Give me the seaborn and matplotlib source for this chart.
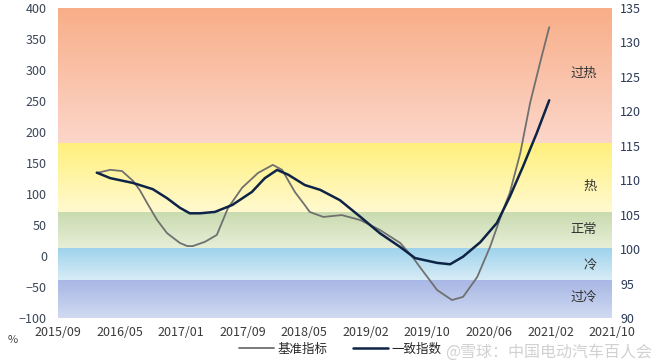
import numpy as np
import pandas as pd
import matplotlib.pyplot as plt
import seaborn as sns
from matplotlib.colors import LinearSegmentedColormap
from matplotlib.lines import Line2D

sns.set_style("white")
plt.rcParams['font.family'] = ['Noto Sans CJK SC', 'DejaVu Sans']

# x axis: category labels, data positions in label units
tick_labels = ["2015/09", "2016/05", "2017/01", "2017/09", "2018/05",
               "2019/02", "2019/10", "2020/06", "2021/02", "2021/10"]

# 基准指标 (left axis, %)
base_x = [0.63, 0.85, 1.04, 1.22, 1.33, 1.45, 1.61, 1.77, 1.98, 2.10, 2.19, 2.39,
          2.58, 2.76, 2.99, 3.25, 3.49, 3.64, 3.85, 4.01, 4.09, 4.31, 4.61, 4.91,
          5.23, 5.56, 5.77, 5.88, 6.16, 6.40, 6.58, 6.81, 7.02, 7.23, 7.34, 7.51,
          7.67, 7.83, 7.98]
base_y = [134, 139, 137, 121, 106, 85, 58, 37, 21, 16, 16, 23,
          34, 77, 110, 134, 147, 139, 103, 82, 71, 63, 66, 58,
          42, 21, -3, -18, -55, -71, -66, -34, 15, 74, 102, 166,
          247, 311, 369]

# 一致指数 (right axis)
coin_x = [0.63, 0.85, 1.22, 1.54, 1.77, 1.98, 2.14, 2.31, 2.55, 2.83, 3.15, 3.36,
          3.56, 3.74, 4.01, 4.26, 4.58, 4.91, 5.23, 5.56, 5.80, 6.16, 6.37, 6.58,
          6.86, 7.13, 7.34, 7.55, 7.78, 7.98]
coin_y = [111.1, 110.3, 109.6, 108.7, 107.4, 106.0, 105.2, 105.2, 105.4, 106.4, 108.3, 110.3,
          111.5, 110.8, 109.3, 108.6, 107.1, 104.7, 102.3, 100.3, 98.7, 98.0, 97.8, 98.9,
          101.0, 103.8, 107.6, 111.9, 116.9, 121.6]

# zones (left-axis units) with labels on the right
band_edges = [-100, -39, 13, 71, 183, 400]
band_names = ["过冷", "冷", "正常", "热", "过热"]
band_top = ["#A8B7E5", "#9DD2EC", "#C9DBAF", "#FFF07C", "#F8AE88"]
band_bottom = ["#D0DAF1", "#D7ECF6", "#E7EED7", "#FFF9CF", "#FCD6CA"]
label_y = [-67, -15, 43, 112, 295]

base_df = pd.DataFrame({"x": base_x, "y": base_y})
coin_df = pd.DataFrame({"x": coin_x, "y": coin_y})

fig = plt.figure(figsize=(6.6, 3.62), dpi=100)
ax = fig.add_axes([58 / 660, 44 / 362, 554 / 660, 310 / 362])
ax2 = ax.twinx()

grad = np.linspace(1, 0, 100).reshape(-1, 1)
for lo, hi, c_top, c_bot in zip(band_edges[:-1], band_edges[1:], band_top, band_bottom):
    cmap = LinearSegmentedColormap.from_list("b", [c_bot, c_top])
    ax.imshow(grad, extent=[0, 9, lo, hi], aspect="auto", cmap=cmap,
              zorder=0, interpolation="bicubic")

for name, yv in zip(band_names, label_y):
    ax.text(8.75, yv, name, ha="right", va="center", fontsize=9.5, color="#333333")

sns.lineplot(data=base_df, x="x", y="y", ax=ax, color="#707070", linewidth=1.3,
             sort=False, zorder=3, solid_joinstyle="round", solid_capstyle="round")
sns.lineplot(data=coin_df, x="x", y="y", ax=ax2, color="#0E2447", linewidth=1.8,
             sort=False, zorder=3, solid_joinstyle="round", solid_capstyle="round")

ax.set_xlim(0, 9)
ax.set_ylim(-100, 400)
ax2.set_ylim(90, 135)
ax.set_yticks(range(-100, 401, 50))
ax2.set_yticks(range(90, 136, 5))
ax.set_xticks(range(len(tick_labels)))
ax.set_xticklabels(tick_labels)
ax.set_xlabel("")
ax.set_ylabel("")
ax2.set_ylabel("")

for a in (ax, ax2):
    for s in a.spines.values():
        s.set_visible(False)
    a.tick_params(length=0, labelsize=9)
ax.tick_params(axis="y", colors="#3B4556", pad=8)
ax.tick_params(axis="x", colors="#3A3A3A", pad=6)
ax2.tick_params(axis="y", colors="#2C3A58", pad=6)

fig.text(8 / 660, 1 - 340 / 362, "%", fontsize=8, color="#444444", va="center")

handles = [Line2D([], [], color="#707070", lw=1.3),
           Line2D([], [], color="#0E2447", lw=1.8)]
fig.legend(handles, ["基准指标", "一致指数"], loc="center", ncol=2,
           bbox_to_anchor=(340 / 660, 1 - 349 / 362), frameon=False,
           fontsize=9, handlelength=2.8, columnspacing=2.0, handletextpad=0.3)

fig.text(652 / 660, 1 - 352 / 362, "@雪球：中国电动汽车百人会", fontsize=11.5,
         color="#9A9A9A", alpha=0.45, ha="right", va="center")

fig.savefig("out.png", dpi=100)
